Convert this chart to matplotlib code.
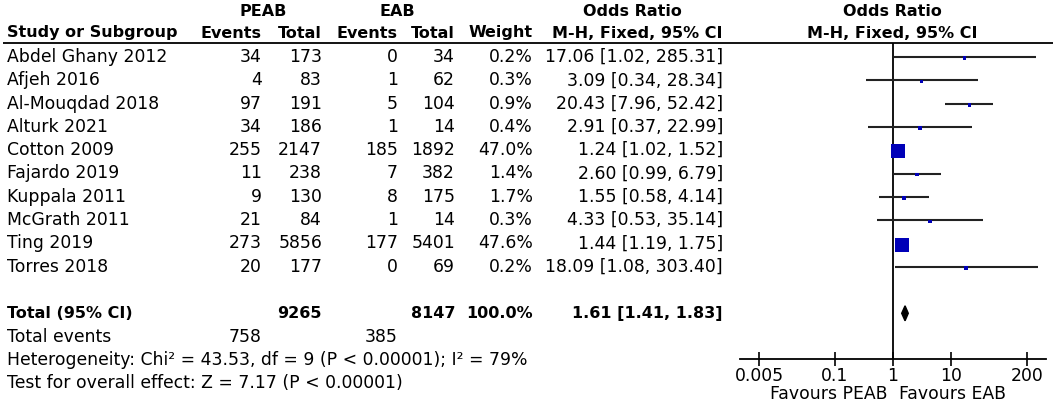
import matplotlib
matplotlib.use("Agg")
import matplotlib.pyplot as plt
from matplotlib.patches import Polygon
import numpy as np

plt.rcParams['font.family'] = ['DejaVu Sans']

# data
studies = ["Abdel Ghany 2012", "Afjeh 2016", "Al-Mouqdad 2018", "Alturk 2021",
           "Cotton 2009", "Fajardo 2019", "Kuppala 2011", "McGrath 2011",
           "Ting 2019", "Torres 2018"]
peab_events = [34, 4, 97, 34, 255, 11, 9, 21, 273, 20]
peab_total = [173, 83, 191, 186, 2147, 238, 130, 84, 5856, 177]
eab_events = [0, 1, 5, 1, 185, 7, 8, 1, 177, 0]
eab_total = [34, 62, 104, 14, 1892, 382, 175, 14, 5401, 69]
weights = [0.2, 0.3, 0.9, 0.4, 47.0, 1.4, 1.7, 0.3, 47.6, 0.2]
odds = [17.06, 3.09, 20.43, 2.91, 1.24, 2.60, 1.55, 4.33, 1.44, 18.09]
ci_low = [1.02, 0.34, 7.96, 0.37, 1.02, 0.99, 0.58, 0.53, 1.19, 1.08]
ci_high = [285.31, 28.34, 52.42, 22.99, 1.52, 6.79, 4.14, 35.14, 1.75, 303.40]

total_or, total_lo, total_hi = 1.61, 1.41, 1.83
total_n = [9265, 8147]
total_ev = [758, 385]
axis_ticks = [0.005, 0.1, 1, 10, 200]
tick_labels = ["0.005", "0.1", "1", "10", "200"]

W, H = 1053, 403
ROW0, STEP = 57, 23.3          # pixel y of first study row, row spacing
FS = 12.4
FSB = 11.5
BLUE = '#0000b8'


def r_of(py):
    return (py - ROW0) / STEP


fig = plt.figure(figsize=(W / 100, H / 100), dpi=100)

# table part: x in pixels, y in row units
tab = fig.add_axes([0, 0, 1, 1])
tab.set_xlim(0, W)
tab.set_ylim(r_of(H), r_of(0))
tab.axis('off')

cols = {'ev1': 262, 'tot1': 322, 'ev2': 398, 'tot2': 455, 'w': 533, 'or': 723}
h1, h2 = r_of(12), r_of(33)
tab.text(263, h1, "PEAB", ha='center', va='center', fontsize=FSB, fontweight='bold')
tab.text(397, h1, "EAB", ha='center', va='center', fontsize=FSB, fontweight='bold')
tab.text(632, h1, "Odds Ratio", ha='center', va='center', fontsize=FSB, fontweight='bold')
tab.text(892, h1, "Odds Ratio", ha='center', va='center', fontsize=FSB, fontweight='bold')
tab.text(7, h2, "Study or Subgroup", ha='left', va='center', fontsize=FSB, fontweight='bold')
for key, lab in [('ev1', "Events"), ('tot1', "Total"), ('ev2', "Events"),
                 ('tot2', "Total"), ('w', "Weight"), ('or', "M-H, Fixed, 95% CI")]:
    tab.text(cols[key], h2, lab, ha='right', va='center', fontsize=FSB, fontweight='bold')
tab.text(892, h2, "M-H, Fixed, 95% CI", ha='center', va='center', fontsize=FSB, fontweight='bold')
tab.hlines(r_of(43), 3, W, color='black', lw=1.3)

for i, name in enumerate(studies):
    tab.text(7, i, name, ha='left', va='center', fontsize=FS)
    tab.text(cols['ev1'], i, str(peab_events[i]), ha='right', va='center', fontsize=FS)
    tab.text(cols['tot1'], i, str(peab_total[i]), ha='right', va='center', fontsize=FS)
    tab.text(cols['ev2'], i, str(eab_events[i]), ha='right', va='center', fontsize=FS)
    tab.text(cols['tot2'], i, str(eab_total[i]), ha='right', va='center', fontsize=FS)
    tab.text(cols['w'], i, f"{weights[i]:.1f}%", ha='right', va='center', fontsize=FS)
    tab.text(cols['or'], i, f"{odds[i]:.2f} [{ci_low[i]:.2f}, {ci_high[i]:.2f}]",
             ha='right', va='center', fontsize=FS)

rt = len(studies) + 1
tab.text(7, rt, "Total (95% CI)", ha='left', va='center', fontsize=FSB, fontweight='bold')
tab.text(cols['tot1'], rt, str(total_n[0]), ha='right', va='center', fontsize=FSB, fontweight='bold')
tab.text(cols['tot2'], rt, str(total_n[1]), ha='right', va='center', fontsize=FSB, fontweight='bold')
tab.text(cols['w'], rt, f"{sum(weights):.1f}%", ha='right', va='center', fontsize=FSB, fontweight='bold')
tab.text(cols['or'], rt, f"{total_or:.2f} [{total_lo:.2f}, {total_hi:.2f}]",
         ha='right', va='center', fontsize=FSB, fontweight='bold')
tab.text(7, rt + 1, "Total events", ha='left', va='center', fontsize=FS)
tab.text(cols['ev1'], rt + 1, str(total_ev[0]), ha='right', va='center', fontsize=FS)
tab.text(cols['ev2'], rt + 1, str(total_ev[1]), ha='right', va='center', fontsize=FS)
tab.text(7, rt + 2, "Heterogeneity: Chi² = 43.53, df = 9 (P < 0.00001); I² = 79%",
         ha='left', va='center', fontsize=FS)
tab.text(7, rt + 3, "Test for overall effect: Z = 7.17 (P < 0.00001)",
         ha='left', va='center', fontsize=FS)
tab.text(887, r_of(394), "Favours PEAB", ha='right', va='center', fontsize=FS)
tab.text(899, r_of(394), "Favours EAB", ha='left', va='center', fontsize=FS)

# forest part
top_px, bot_px, left_px, right_px = 43, 359, 740, 1046
ax = fig.add_axes([left_px / W, 1 - bot_px / H, (right_px - left_px) / W, (bot_px - top_px) / H])
ax.set_xscale('log')
ax.set_xlim(1 / 424, 424)
ax.set_ylim(r_of(bot_px), r_of(top_px))
ax.patch.set_alpha(0)
for s in ['top', 'left', 'right']:
    ax.spines[s].set_visible(False)
ax.spines['bottom'].set_linewidth(1.3)
ax.set_yticks([])
ax.set_xticks(axis_ticks)
ax.set_xticklabels(tick_labels)
ax.minorticks_off()
ax.tick_params(axis='x', direction='inout', length=10, width=1.2, labelsize=FS, pad=1)

ax.axvline(1, color='black', lw=1.3)
rows = np.arange(len(studies))
ax.hlines(rows, ci_low, ci_high, color='#222222', lw=1.5)
side_px = np.maximum(3.5, 14 * np.sqrt(np.array(weights) / 47.6))
ax.scatter(odds, rows + 0.05, marker='s', s=(side_px * 0.72) ** 2, color=BLUE, zorder=3, linewidths=0)

dh = 7.5 / STEP
diamond = Polygon([(total_lo, rt), (total_or, rt - dh), (total_hi, rt), (total_or, rt + dh)],
                  closed=True, color='black')
ax.add_patch(diamond)

fig.savefig("out.png", dpi=100)
